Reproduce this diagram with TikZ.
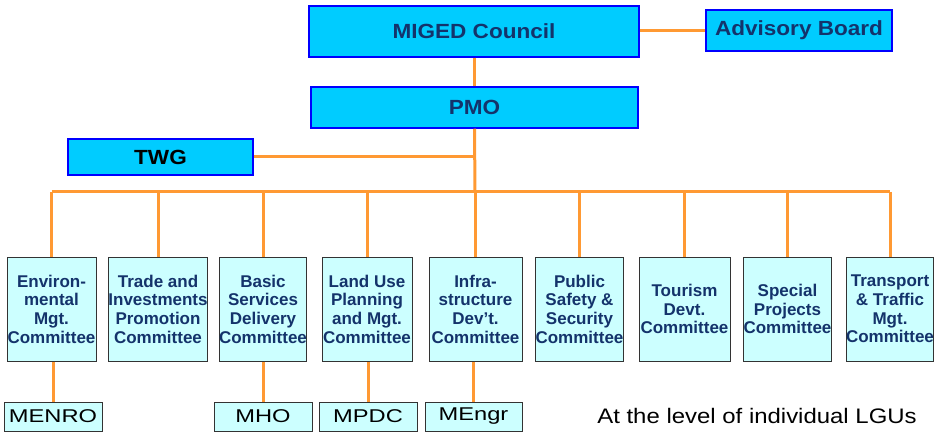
\documentclass[tikz,border=0pt]{standalone}
\usepackage{fontspec}
\setmainfont{Liberation Sans}
\newfontfamily\headfont[FakeStretch=1.1]{Liberation Sans}
\newfontfamily\lgufont[FakeStretch=1.28]{Liberation Sans}
\newfontfamily\notefont[FakeStretch=1.14]{Liberation Sans}
\definecolor{topfill}{HTML}{00CCFF}
\definecolor{comfill}{HTML}{CCFFFF}
\definecolor{navytext}{HTML}{14336B}
\definecolor{wireorange}{HTML}{FF9933}
\definecolor{boxedge}{HTML}{333333}

\begin{document}
\begin{tikzpicture}[x=1pt,y=-1pt,
    topbox/.style={draw=blue,line width=1.5pt,fill=topfill,text=navytext,inner sep=0pt,
        font=\headfont\bfseries\fontsize{20.5}{24}\selectfont},
    combox/.style={draw=boxedge,line width=1pt,fill=comfill,text=navytext,inner sep=0pt,
        minimum height=104pt,align=center,
        font=\bfseries\fontsize{17}{18.7}\selectfont},
    lgubox/.style={draw=boxedge,line width=1pt,fill=comfill,inner sep=0pt,
        minimum height=29pt,font=\lgufont\fontsize{18.5}{20}\selectfont},
    wire/.style={wireorange,line width=3pt}]
    \useasboundingbox (0,0) rectangle (935,433);
    \node[topbox,minimum width=330pt,minimum height=51pt] (council) at (474,31.5) {MIGED Council};
    \node[topbox,minimum width=186pt,minimum height=41pt] (advisory) at (799,30.5) {Advisory Board};
    \node[topbox,minimum width=327pt,minimum height=41pt] (pmo) at (474.5,107.5) {PMO};
    \node[topbox,text=black,minimum width=185pt,minimum height=36pt] (twg) at (160.5,157) {TWG};

    \node[combox,minimum width=89pt] (c1) at (51.5,309) {Environ-\\mental\\Mgt.\\Committee};
    \node[combox,minimum width=92pt] (c2) at (158,309) {Trade and\\Investments\\Promotion\\Committee};
    \node[combox,minimum width=86pt] (c3) at (263,309) {Basic\\Services\\Delivery\\Committee};
    \node[combox,minimum width=90pt] (c4) at (367,309) {Land Use\\Planning\\and Mgt.\\Committee};
    \node[combox,minimum width=93pt] (c5) at (475.5,309) {Infra-\\structure\\Dev't.\\Committee};
    \node[combox,minimum width=87pt] (c6) at (579.5,309) {Public\\Safety \&\\Security\\Committee};
    \node[combox,minimum width=91pt] (c7) at (684.5,309) {Tourism\\Devt.\\Committee};
    \node[combox,minimum width=87pt] (c8) at (787.5,309) {Special\\Projects\\Committee};
    \node[combox,minimum width=86pt] (c9) at (890,309) {Transport\\\& Traffic\\Mgt.\\Committee};

    \node[lgubox,minimum width=98pt] (menro) at (53,416.5) {MENRO};
    \node[lgubox,minimum width=98pt] (mho) at (263,416.5) {MHO};
    \node[lgubox,minimum width=98pt] (mpdc) at (368,416.5) {MPDC};
    \node[lgubox,minimum width=97pt] (mengr) at (473.5,416.5) {MEngr};
    \node[font=\notefont\fontsize{21}{24}\selectfont] (lgunote) at (757,416) {At the level of individual LGUs};

    \coordinate (bus) at (475,192);
    \draw[wire] (pmo.north |- council.south) -- (pmo.north);
    \draw[wire] (advisory.west -| council.east) -- (advisory.west);
    \draw[wire] (twg.east) -- (twg.east -| bus);
    \draw[wire] (pmo.south) -- (bus);
    \draw[wire] (bus -| c1.north) -- (bus -| c9.north);
    \foreach \i in {1,...,9}
        \draw[wire] (bus -| c\i.north) -- (c\i.north);
    \draw[wire] (c1.south -| menro.north) -- (menro.north);
    \draw[wire] (c3.south) -- (mho.north);
    \draw[wire] (c4.south -| mpdc.north) -- (mpdc.north);
    \draw[wire] (c5.south -| mengr.north) -- (mengr.north);
\end{tikzpicture}
\end{document}
